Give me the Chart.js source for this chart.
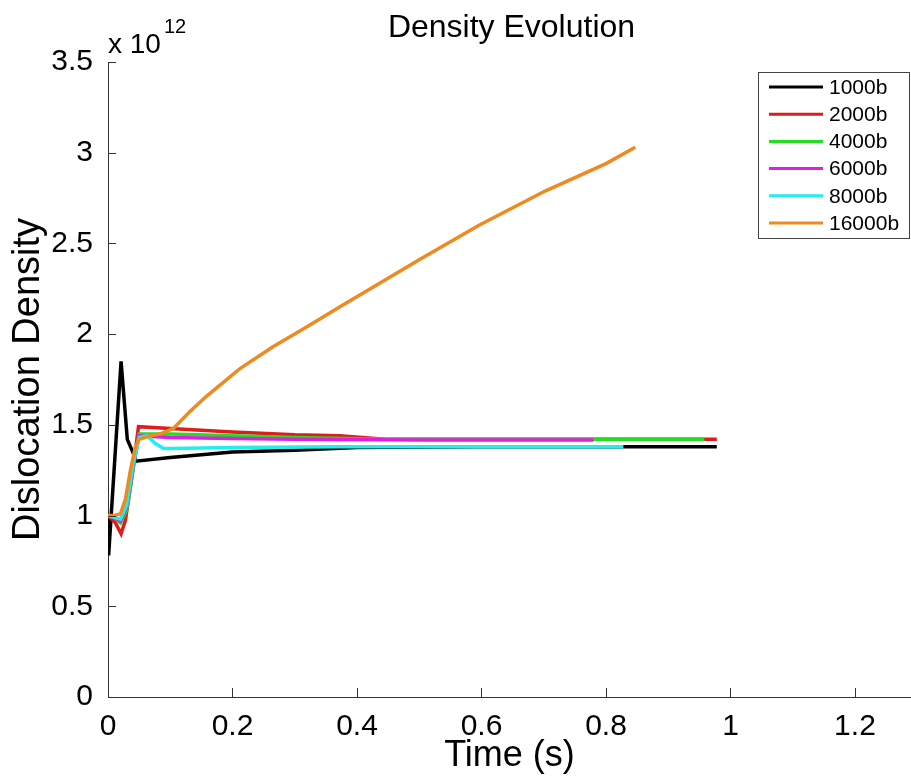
<!DOCTYPE html>
<html>
<head>
<meta charset="utf-8">
<title>Density Evolution</title>
<script src="https://cdn.jsdelivr.net/npm/chart.js@4.4.1/dist/chart.umd.min.js"></script>
<style>
    html, body { margin: 0; padding: 0; background: #fff; }
    #wrap { width: 911px; height: 780px; }
</style>
</head>
<body>
<div id="wrap"><canvas id="densityChart" width="911" height="780"></canvas></div>
<script>
// Series labels and colours
const seriesLabels = ['1000b', '2000b', '4000b', '6000b', '8000b', '16000b'];
const seriesColors = ['#000000', '#e01b1b', '#22dd22', '#e020e0', '#22eeee', '#ee8a1f'];

// Time (s) and density (x 10^12)
const t1000 = [0, 0.001, 0.021, 0.031, 0.041, 0.045, 0.1, 0.2, 0.3, 0.4, 0.6, 0.8, 0.978];
const d1000 = [1.0, 0.78, 1.85, 1.42, 1.34, 1.30, 1.32, 1.35, 1.36, 1.375, 1.38, 1.38, 1.38];

const t2000 = [0, 0.012, 0.021, 0.028, 0.04, 0.049, 0.1, 0.2, 0.3, 0.372, 0.45, 0.7, 0.978];
const d2000 = [1.0, 0.96, 0.90, 0.975, 1.25, 1.49, 1.48, 1.46, 1.445, 1.44, 1.42, 1.42, 1.42];

const t4000 = [0, 0.01, 0.02, 0.03, 0.04, 0.05, 0.1, 0.2, 0.3, 0.45, 0.7, 0.958];
const d4000 = [1.0, 0.99, 0.96, 1.03, 1.25, 1.45, 1.45, 1.44, 1.43, 1.42, 1.42, 1.42];

const t6000 = [0, 0.01, 0.02, 0.03, 0.04, 0.05, 0.1, 0.2, 0.3, 0.5, 0.78];
const d6000 = [1.0, 0.99, 0.97, 1.05, 1.27, 1.44, 1.43, 1.425, 1.42, 1.417, 1.417];

const t8000 = [0, 0.01, 0.02, 0.03, 0.04, 0.05, 0.063, 0.075, 0.089, 0.1, 0.2, 0.372, 0.6, 0.828];
const d8000 = [1.0, 0.99, 0.98, 1.06, 1.28, 1.43, 1.44, 1.40, 1.37, 1.37, 1.375, 1.38, 1.38, 1.38];

const t16000 = [0, 0.01, 0.02, 0.028, 0.036, 0.044, 0.05, 0.068, 0.084, 0.105, 0.132, 0.159, 0.212, 0.265, 0.319, 0.372, 0.5, 0.596, 0.703, 0.8, 0.847];
const d16000 = [1.0, 1.0, 1.01, 1.09, 1.25, 1.38, 1.42, 1.44, 1.45, 1.48, 1.575, 1.66, 1.81, 1.93, 2.04, 2.15, 2.41, 2.60, 2.79, 2.94, 3.03];

const seriesTimes = [t1000, t2000, t4000, t6000, t8000, t16000];
const seriesDensity = [d1000, d2000, d4000, d6000, d8000, d16000];

// Axis ticks
const xTicks = [0, 0.2, 0.4, 0.6, 0.8, 1, 1.2];
const yTicks = [0, 0.5, 1, 1.5, 2, 2.5, 3, 3.5];

const FONT = "'Liberation Sans', Arial, sans-serif";
const AXIS_COLOR = '#333333';

// Inward tick marks, MATLAB style
const innerTicks = {
    id: 'innerTicks',
    afterDraw(chart) {
        const { ctx, chartArea, scales } = chart;
        ctx.save();
        ctx.strokeStyle = AXIS_COLOR;
        ctx.lineWidth = 1;
        ctx.beginPath();
        scales.x.ticks.forEach(t => {
            const px = Math.round(scales.x.getPixelForValue(t.value)) + 0.5;
            ctx.moveTo(px, chartArea.bottom);
            ctx.lineTo(px, chartArea.bottom - 9);
        });
        scales.y.ticks.forEach(t => {
            const py = Math.round(scales.y.getPixelForValue(t.value)) + 0.5;
            ctx.moveTo(chartArea.left, py);
            ctx.lineTo(chartArea.left + 8, py);
        });
        ctx.stroke();
        ctx.restore();
    }
};

// Title, exponent note and legend box
const decorations = {
    id: 'decorations',
    afterDraw(chart) {
        const { ctx, chartArea } = chart;
        ctx.save();
        ctx.fillStyle = '#000';

        // Title
        ctx.font = `32px ${FONT}`;
        ctx.textAlign = 'center';
        ctx.textBaseline = 'alphabetic';
        ctx.fillText('Density Evolution', (chartArea.left + chartArea.right) / 2 + 2, 37);

        // x 10^12
        ctx.textAlign = 'left';
        ctx.font = `28px ${FONT}`;
        ctx.fillText('x 10', chartArea.left, 53);
        const w = ctx.measureText('x 10').width;
        ctx.font = `20px ${FONT}`;
        ctx.fillText('12', chartArea.left + w + 3, 33);

        // Legend
        const lx = 758, ly = 72, lw = 152, lh = 167;
        ctx.fillStyle = '#fff';
        ctx.fillRect(lx, ly, lw, lh);
        ctx.strokeStyle = '#444';
        ctx.lineWidth = 1;
        ctx.strokeRect(lx + 0.5, ly + 0.5, lw - 1, lh - 1);
        ctx.font = `21px ${FONT}`;
        ctx.textBaseline = 'middle';
        chart.data.datasets.forEach((ds, i) => {
            const y = ly + 15 + i * 27.2;
            ctx.strokeStyle = ds.borderColor;
            ctx.lineWidth = 3;
            ctx.beginPath();
            ctx.moveTo(lx + 11, y);
            ctx.lineTo(lx + 65, y);
            ctx.stroke();
            ctx.fillStyle = '#000';
            ctx.fillText(ds.label, lx + 71, y + 1);
        });
        ctx.restore();
    }
};

const datasets = seriesLabels.map((label, i) => ({
    label: label,
    data: seriesTimes[i].map((t, j) => ({ x: t, y: seriesDensity[i][j] })),
    borderColor: seriesColors[i],
    backgroundColor: seriesColors[i],
    borderWidth: 3.5,
    pointRadius: 0,
    tension: 0,
    fill: false,
    order: seriesLabels.length - i // later series drawn on top
}));

const fmt = v => String(+v.toFixed(2));

new Chart(document.getElementById('densityChart'), {
    type: 'line',
    data: { datasets },
    options: {
        responsive: false,
        animation: false,
        layout: { padding: { top: 62, right: 0, left: 0, bottom: 0 } },
        plugins: {
            legend: { display: false },
            tooltip: { enabled: false }
        },
        scales: {
            x: {
                type: 'linear',
                min: 0,
                max: 1.29,
                afterBuildTicks: scale => { scale.ticks = xTicks.map(v => ({ value: v })); },
                afterFit: scale => { scale.height = 83; },
                grid: { display: false },
                border: { display: true, color: AXIS_COLOR, width: 1 },
                ticks: {
                    color: '#000',
                    font: { family: FONT, size: 30 },
                    padding: 4,
                    maxRotation: 0,
                    autoSkip: false,
                    callback: fmt
                },
                title: {
                    display: true,
                    text: 'Time (s)',
                    color: '#000',
                    font: { family: FONT, size: 36 },
                    padding: { top: 0, bottom: 2 }
                }
            },
            y: {
                type: 'linear',
                min: 0,
                max: 3.5,
                afterBuildTicks: scale => { scale.ticks = yTicks.map(v => ({ value: v })); },
                afterFit: scale => { scale.width = 108; },
                grid: { display: false },
                border: { display: true, color: AXIS_COLOR, width: 1 },
                ticks: {
                    color: '#000',
                    font: { family: FONT, size: 30 },
                    padding: 7,
                    autoSkip: false,
                    callback: fmt
                },
                title: {
                    display: true,
                    text: 'Dislocation Density',
                    color: '#000',
                    font: { family: FONT, size: 38 },
                    padding: { top: 6, bottom: 0 }
                }
            }
        }
    },
    plugins: [innerTicks, decorations]
});
</script>
</body>
</html>
